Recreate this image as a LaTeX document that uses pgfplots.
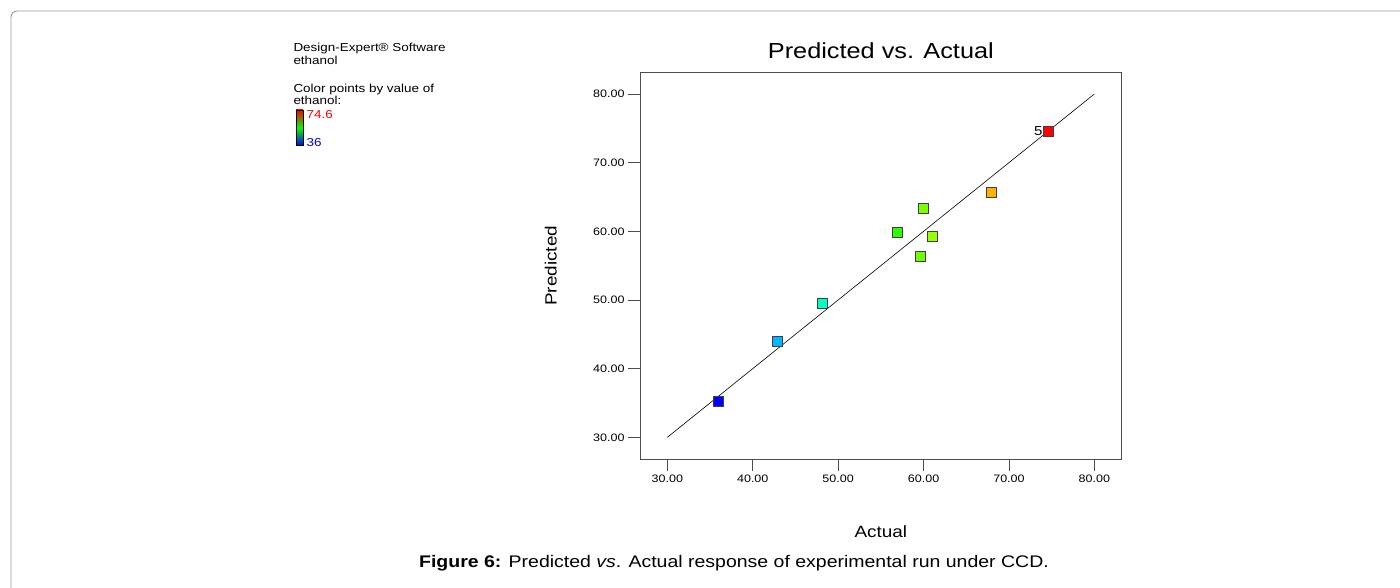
\documentclass[border=0pt]{standalone}
\usepackage{fontspec}
\setmainfont{Liberation Sans}[FakeStretch=1.16]
\usepackage{pgfplots}
\pgfplotsset{compat=1.18}

% colour scale used to colour the runs by their ethanol value
\pgfplotsset{colormap={ethanol}{rgb255=(0,0,255) rgb255=(0,255,255) rgb255=(0,255,0) rgb255=(255,255,0) rgb255=(255,0,0)}}

\begin{document}
\begin{tikzpicture}[x=1pt,y=1pt]
\path[use as bounding box] (0,0) rectangle (1400,587);
\clip (0,0) rectangle (1400,587);
% page frame
\draw[black!40, line width=0.9] (11,-20) -- (11,570) arc[start angle=180, end angle=90, radius=6] -- (1420,576);

% side notes
\begin{scope}[every node/.style={font=\fontsize{11.6}{13}\selectfont, anchor=base west, inner sep=0pt}]
\node at (293.3,535.3) {Design-Expert® Software};
\node at (293.3,522.7) {ethanol};
\node at (293.3,494.7) {Color points by value of};
\node at (293.3,482) {ethanol:};
\node[text=red] at (306.5,468.7) {74.6};
\node[text=blue] at (306.5,440.3) {36};
\end{scope}
\shade[top color=red, bottom color=blue, middle color=green] (296,441.3) rectangle (303,477);
\draw[black, line width=0.8] (296,441.3) rectangle (303,477);

\begin{axis}[
  at={(640pt,128pt)}, anchor=south west,
  scale only axis, width=481.7pt, height=386.3pt,
  xmin=26.8, xmax=83.2, ymin=26.84, ymax=83.1,
  xtick={30,40,...,80}, ytick={30,40,...,80},
  tick align=outside, xtick pos=bottom, ytick pos=left,
  major tick length=12pt,
  axis line style={black!70, line width=0.8},
  tick style={black!70, line width=0.8},
  tick label style={font=\fontsize{10.8}{13}\selectfont},
  /pgf/number format/fixed,
  /pgf/number format/fixed zerofill,
  /pgf/number format/precision=2,
  /pgf/number format/assume math mode=true,
  title={Predicted vs. Actual},
  title style={at={(axis description cs:0.5,1)}, anchor=base, yshift=8.4pt, font=\fontsize{21.8}{24}\selectfont},
  xlabel={Actual},
  xlabel style={at={(axis description cs:0.5,-0.2037)}, anchor=base, font=\fontsize{16.3}{18}\selectfont},
  ylabel={Predicted},
  ylabel style={at={(axis description cs:-0.1729,0.5)}, anchor=base, font=\fontsize{16.3}{18}\selectfont},
  colormap name=ethanol,
  point meta min=36, point meta max=74.6,
]
% line of perfect agreement
\addplot[black, line width=0.6, no marks] coordinates {(30,30) (80,80)};
% runs: actual vs predicted ethanol
\addplot[scatter, only marks, mark=square*, mark size=5pt, point meta=x,
  scatter/use mapped color={draw=black!75, fill=mapped color}, line width=0.8]
  coordinates {
    (36.0,35.3) (42.9,43.9) (48.1,49.5) (56.9,59.8) (59.6,56.3)
    (60.0,63.3) (61.0,59.2) (67.9,65.7) (74.6,74.6)
  };
\node[anchor=east, font=\fontsize{13}{15}\selectfont, inner sep=0pt] at (axis cs:74.6,74.6) [xshift=-5.5pt] {5};
\end{axis}

% caption
\node[anchor=base, font=\fontsize{16.8}{19}\selectfont, inner sep=0pt] at (734,20)
  {\textbf{Figure 6:} Predicted \textit{vs}. Actual response of experimental run under CCD.};
\end{tikzpicture}
\end{document}
